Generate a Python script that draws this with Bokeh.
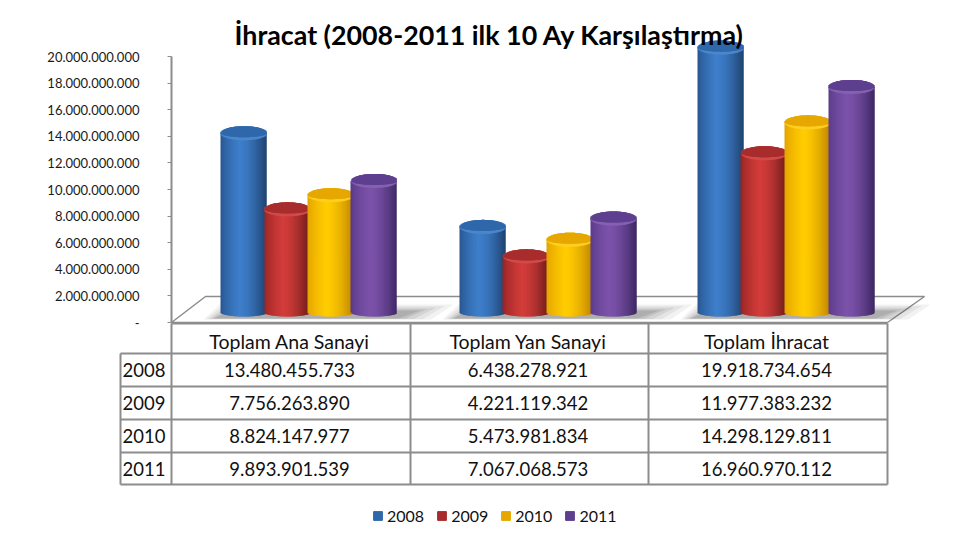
import numpy as np
from bokeh.embed import file_html
from bokeh.resources import INLINE
from bokeh.plotting import figure
from bokeh.models import Range1d, LinearAxis, FixedTicker, Legend, LegendItem, ColumnDataSource
from bokeh.core.properties import value

# ---------- data ----------
title_text = "İhracat (2008-2011 ilk 10 Ay Karşılaştırma)"
categories = ["Toplam Ana Sanayi", "Toplam Yan Sanayi", "Toplam İhracat"]
years = ["2008", "2009", "2010", "2011"]
v2008 = [13480455733, 6438278921, 19918734654]
v2009 = [7756263890, 4221119342, 11977383232]
v2010 = [8824147977, 5473981834, 14298129811]
v2011 = [9893901539, 7067068573, 16960970112]
tick_values = [0, 2e9, 4e9, 6e9, 8e9, 10e9, 12e9, 14e9, 16e9, 18e9, 20e9]
tick_labels = ["-", "2.000.000.000", "4.000.000.000", "6.000.000.000", "8.000.000.000",
               "10.000.000.000", "12.000.000.000", "14.000.000.000", "16.000.000.000",
               "18.000.000.000", "20.000.000.000"]
series = [v2008, v2009, v2010, v2011]

# ---------- styles ----------
FONT = "Lato"
GREY = "#8c8c8c"
# (edge-left, bright, edge-right, cap, cap-rim)
palettes = [
    ((38, 84, 140), (62, 126, 202), (30, 66, 110), "#2f68aa", "#4a86cc"),
    ((150, 36, 36), (210, 60, 58), (105, 26, 26), "#a82c2c", "#cf4a48"),
    ((226, 160, 0), (255, 204, 0), (190, 130, 0), "#e6a800", "#ffce20"),
    ((88, 58, 134), (124, 82, 170), (62, 40, 100), "#5e3f8e", "#8460b0"),
]
W, H = 964, 529
Y_ZERO, Y_TOP = 322, 56          # pixel rows of 0 and of the axis maximum
K = (Y_ZERO - Y_TOP) / 20e9      # pixels per unit
DEPTH = (Y_ZERO - 312) / K       # the bars stand further back than the axis
BAR_W = 46
RY_TOP, RY_BOT = 7 / K, 4 / K
COL_X = [171, 410, 648, 887]
GROUP_X = [243, 482, 720]
BAR_STEP = 43.5

p = figure(width=W, height=H, output_backend="svg", toolbar_location=None,
           x_range=Range1d(0, W),
           y_range=Range1d(-(H - Y_ZERO) / K, Y_ZERO / K),
           min_border=0, min_border_left=0, min_border_right=0, min_border_top=0,
           min_border_bottom=0, outline_line_color=None, x_axis_location=None, y_axis_location=None)
p.grid.visible = False
p.extra_y_ranges = {"px": Range1d(H, 0)}

axis = LinearAxis(ticker=FixedTicker(ticks=tick_values),
                  major_label_overrides={int(t): l for t, l in zip(tick_values, tick_labels)},
                  bounds=(0, 20e9), fixed_location=171,
                  axis_line_color=GREY, axis_line_width=2,
                  major_tick_line_color=GREY, major_tick_line_width=1,
                  major_tick_in=0, major_tick_out=4, minor_tick_line_color=None,
                  major_label_text_font=FONT, major_label_text_font_size="13px",
                  major_label_text_color="#1a1a1a", major_label_standoff=28)
p.add_layout(axis, "left")

# floor
p.patch([171, 887, 924, 205], [322, 322, 296, 296], y_range_name="px",
        fill_color="white", line_color=GREY, line_width=1.5)

# shadows on the floor
for g in GROUP_X:
    for grow, a in ((34, .07), (26, .08), (18, .10), (10, .12), (4, .14)):
        x0 = g - 28 - grow * .35
        x1 = g + 3 * BAR_STEP + 28 + grow * 1.1
        p.patch([x0, x0 + 16, x1 + 14, x1 - 8],
                [318 + grow * .03, 304 + (34 - grow) * .2, 304 + (34 - grow) * .2, 318 + grow * .03],
                y_range_name="px", fill_color="#404040", fill_alpha=a, line_color=None)

# bars: cylinders made of overlapping pixel strips
def shade(t, pal):
    left, mid, right = [np.array(c, float) for c in pal[:3]]
    if t < .4:
        c = left + (mid - left) * (t / .4) ** .7
    else:
        c = mid + (right - mid) * ((t - .4) / .6) ** 1.6
    return "#%02x%02x%02x" % tuple(int(round(x)) for x in c)

legend_items = []
for yi, vals in enumerate(series):
    pal = palettes[yi]
    rows = {k: [] for k in ("l", "r", "t", "b", "c")}
    caps = {k: [] for k in ("l", "r", "t", "b", "c")}
    rims = {k: [] for k in ("l", "r", "t", "b", "c")}
    for gi, v in enumerate(vals):
        cx = GROUP_X[gi] + yi * BAR_STEP
        xs = np.arange(round(cx - BAR_W / 2), round(cx + BAR_W / 2))
        for px in xs:
            t = (px + .5 - (cx - BAR_W / 2)) / BAR_W
            s = np.sqrt(max(0, 1 - (2 * t - 1) ** 2))
            col = shade(t, pal)
            top = v + DEPTH
            right = px + 1 if px == xs[-1] else px + 2
            rows["l"].append(px); rows["r"].append(right)
            rows["t"].append(top); rows["b"].append(DEPTH - RY_BOT * s)
            rows["c"].append(col)
            rims["l"].append(px); rims["r"].append(right)
            rims["t"].append(top + RY_TOP * s); rims["b"].append(top - RY_TOP * s)
            rims["c"].append(pal[4])
            caps["l"].append(px); caps["r"].append(right)
            caps["t"].append(top + RY_TOP * s); caps["b"].append(top - RY_TOP * s * .6 + .15 / K)
            caps["c"].append(pal[3])
    for d in (rows, rims, caps):
        p.quad(left="l", right="r", top="t", bottom="b", fill_color="c", line_color=None,
               source=ColumnDataSource(d))
    dummy = p.quad(left=[np.nan], right=[np.nan], top=[np.nan], bottom=[np.nan],
                   fill_color=pal[3], line_color=pal[3])
    legend_items.append(LegendItem(label=years[yi], renderers=[dummy]))

# table
H_ROWS = [353, 386, 419, 452, 484]
HDR_TOP = 323
p.segment(x0=[171] + [120] * 5, x1=[887] + [887] * 5, y0=[HDR_TOP] + H_ROWS, y1=[HDR_TOP] + H_ROWS,
          y_range_name="px", line_color=GREY, line_width=2)
p.segment(x0=COL_X, x1=COL_X, y0=[HDR_TOP] * 4, y1=[484] * 4, y_range_name="px",
          line_color=GREY, line_width=2)
p.segment(x0=[120], x1=[120], y0=[353], y1=[484], y_range_name="px", line_color=GREY, line_width=2)

head_x, head_y = [], []
cell_x, cell_y, cell_t = [], [], []
for c, name in enumerate(categories):
    cx = (COL_X[c] + COL_X[c + 1]) / 2 - 1.5
    head_x.append(cx); head_y.append((HDR_TOP + H_ROWS[0]) / 2 + 3)
    for r, vals in enumerate(series):
        cell_x.append(cx); cell_y.append((H_ROWS[r] + H_ROWS[r + 1]) / 2)
        cell_t.append(f"{vals[c]:,}".replace(",", "."))
p.text(x=head_x, y=head_y, text=categories, y_range_name="px", text_align="center", text_baseline="middle",
       text_font=value(FONT), text_font_size="19.5px", text_color="#111111")
p.text(x=cell_x, y=cell_y, text=cell_t, y_range_name="px", text_align="center", text_baseline="middle",
       text_font=value(FONT), text_font_size="18.5px", text_color="#111111")
p.text(x=[143.5] * 4, y=[(H_ROWS[r] + H_ROWS[r + 1]) / 2 for r in range(4)], text=years, y_range_name="px",
       text_align="center", text_baseline="middle", text_font=value(FONT), text_font_size="18.5px",
       text_color="#111111")

# title
p.text(x=[489], y=[34.5], text=[title_text], y_range_name="px", text_align="center", text_baseline="middle",
       text_font=value(FONT), text_font_style="bold", text_font_size="26.8px", text_color="black")

legend = Legend(items=legend_items, orientation="horizontal", location=(372, 4),
                glyph_width=11, glyph_height=11, label_standoff=4, spacing=12, padding=4, margin=0,
                border_line_color=None, background_fill_alpha=0,
                label_text_font=FONT, label_text_font_size="16px", label_text_color="#111111")
p.add_layout(legend, "center")

open("out.html", "w").write(file_html(p, INLINE))
